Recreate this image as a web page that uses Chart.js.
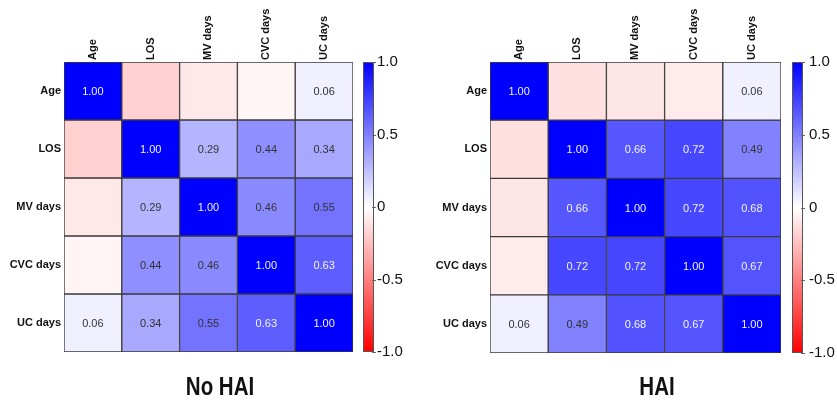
<!DOCTYPE html>
<html>
<head>
<meta charset="utf-8">
<script src="https://cdn.jsdelivr.net/npm/chart.js@4/dist/chart.umd.min.js"></script>
<style>
  html, body { margin: 0; padding: 0; background: #ffffff; }
  #wrap { position: relative; width: 837px; height: 403px; overflow: hidden; }
  canvas { position: absolute; top: 0; }
</style>
</head>
<body>
<div id="wrap">
  <canvas id="c1" width="418" height="403" style="left:0px"></canvas>
  <canvas id="c2" width="419" height="403" style="left:418px"></canvas>
</div>
<script>
// ---- data ----
const categories = ['Age', 'LOS', 'MV days', 'CVC days', 'UC days'];

// No HAI correlation matrix (rows)
const noHaiAge = [1.00, -0.18, -0.09, -0.04, 0.06];
const noHaiLOS = [-0.18, 1.00, 0.29, 0.44, 0.34];
const noHaiMV  = [-0.09, 0.29, 1.00, 0.46, 0.55];
const noHaiCVC = [-0.04, 0.44, 0.46, 1.00, 0.63];
const noHaiUC  = [0.06, 0.34, 0.55, 0.63, 1.00];

// HAI correlation matrix (rows)
const haiAge = [1.00, -0.12, -0.10, -0.08, 0.06];
const haiLOS = [-0.12, 1.00, 0.66, 0.72, 0.49];
const haiMV  = [-0.10, 0.66, 1.00, 0.72, 0.68];
const haiCVC = [-0.08, 0.72, 0.72, 1.00, 0.67];
const haiUC  = [0.06, 0.49, 0.68, 0.67, 1.00];

const colorbarTickValues = [-1, -0.5, 0, 0.5, 1];
const colorbarTickLabels = ['-1.0', '-0.5', '0', '0.5', '1.0'];

const titles = ['No HAI', 'HAI'];

// ---- helpers ----
const FONT = '"Liberation Sans", Arial, Helvetica, sans-serif';

function corrColor(v) {
  if (v >= 0) {
    const c = Math.round(255 * (1 - v));
    return `rgb(${c},${c},255)`;
  }
  const c = Math.round(255 * (1 + v));
  return `rgb(255,${c},${c})`;
}

const heatPlugin = {
  id: 'heatExtras',
  beforeDatasetsDraw(chart) {
    // colorbar
    const o = chart.options.plugins.heatExtras;
    const cb = chart.scales.cb;
    const ctx = chart.ctx;
    const top = cb.getPixelForValue(1);
    const bottom = cb.getPixelForValue(-1);
    const x0 = chart.chartArea.right + o.cbGap;
    const w = o.cbWidth;
    const g = ctx.createLinearGradient(0, top, 0, bottom);
    g.addColorStop(0, corrColor(1));
    g.addColorStop(0.5, corrColor(0));
    g.addColorStop(1, corrColor(-1));
    ctx.save();
    ctx.fillStyle = g;
    ctx.fillRect(x0, top, w, bottom - top);
    ctx.strokeStyle = '#555';
    ctx.lineWidth = 1;
    ctx.strokeRect(x0 + 0.5, top + 0.5, w - 1, bottom - top - 1);
    ctx.strokeStyle = '#666';
    colorbarTickValues.forEach(v => {
      const y = Math.round(cb.getPixelForValue(v)) + 0.5;
      ctx.beginPath();
      ctx.moveTo(x0 + w - 2, y);
      ctx.lineTo(x0 + w + 2, y);
      ctx.stroke();
    });
    ctx.restore();
  },
  afterDatasetsDraw(chart) {
    const ctx = chart.ctx;
    const vals = chart.options.plugins.heatExtras.values;
    ctx.save();
    ctx.font = '11px ' + FONT;
    ctx.textAlign = 'center';
    ctx.textBaseline = 'middle';
    chart.data.datasets.forEach((ds, r) => {
      const meta = chart.getDatasetMeta(r);
      meta.data.forEach((el, c) => {
        const v = vals[r][c];
        if (v < 0) return;
        const p = el.getCenterPoint();
        ctx.fillStyle = v > 0.6 ? '#f2f2ff' : '#333333';
        ctx.fillText(v.toFixed(2), p.x, p.y + 1);
      });
    });
    ctx.restore();
  },
  afterDraw(chart) {
    const o = chart.options.plugins.heatExtras;
    const ctx = chart.ctx;
    ctx.save();
    ctx.font = 'bold 25px ' + FONT;
    ctx.fillStyle = '#111';
    ctx.textAlign = 'center';
    ctx.textBaseline = 'middle';
    ctx.translate(o.titleX, o.titleY);
    ctx.scale(0.82, 1);
    ctx.fillText(o.title, 0, 0);
    ctx.restore();
  }
};

function makeHeatmap(canvasId, values, title, geo) {
  const datasets = values.map((row, r) => ({
    label: categories[r],
    data: categories.map(() => [r, r + 1]),
    backgroundColor: row.map(corrColor),
    borderColor: '#3a3a3a',
    borderWidth: 1,
    borderSkipped: false,
    grouped: false,
    barPercentage: 1,
    categoryPercentage: 1
  }));

  return new Chart(document.getElementById(canvasId), {
    type: 'bar',
    data: { labels: categories, datasets },
    plugins: [heatPlugin],
    options: {
      responsive: false,
      animation: false,
      indexAxis: 'x',
      layout: { padding: { top: 0, bottom: geo.padBottom, left: 0, right: 0 } },
      plugins: {
        legend: { display: false },
        tooltip: { enabled: false },
        heatExtras: {
          values, title,
          titleX: geo.titleX, titleY: 388,
          cbGap: geo.cbGap, cbWidth: geo.cbWidth
        }
      },
      scales: {
        x: {
          type: 'category',
          position: 'top',
          offset: true,
          grid: { display: false, drawTicks: false },
          border: { display: false },
          ticks: {
            minRotation: 90, maxRotation: 90, autoSkip: false,
            padding: 2, labelOffset: 13, color: '#111',
            font: { family: FONT, size: 11, weight: 'bold' }
          },
          afterFit(s) { s.height = 62; }
        },
        y: {
          type: 'linear',
          position: 'left',
          min: 0, max: 5, reverse: true,
          grid: { display: false, drawTicks: false },
          border: { display: false },
          afterBuildTicks(s) { s.ticks = categories.map((c, i) => ({ value: i + 0.5 })); },
          ticks: {
            autoSkip: false, padding: 3, color: '#111',
            font: { family: FONT, size: 11, weight: 'bold' },
            callback: (v, i) => categories[i]
          },
          afterFit(s) { s.width = geo.yWidth; }
        },
        cb: {
          type: 'linear',
          position: 'right',
          min: -1, max: 1,
          grid: { display: false, drawTicks: false },
          border: { display: false },
          afterBuildTicks(s) { s.ticks = colorbarTickValues.map(v => ({ value: v })); },
          ticks: {
            autoSkip: false, padding: geo.cbLabelPad, color: '#111',
            font: { family: FONT, size: 15 },
            callback: (v, i) => colorbarTickLabels[i]
          },
          afterFit(s) { s.width = geo.cbAxisWidth; }
        }
      }
    }
  });
}

makeHeatmap('c1', [noHaiAge, noHaiLOS, noHaiMV, noHaiCVC, noHaiUC], titles[0], {
  yWidth: 64, cbAxisWidth: 65, padBottom: 51,
  cbGap: 10, cbWidth: 11, cbLabelPad: 24, titleX: 220
});

makeHeatmap('c2', [haiAge, haiLOS, haiMV, haiCVC, haiUC], titles[1], {
  yWidth: 72, cbAxisWidth: 56, padBottom: 50,
  cbGap: 11, cbWidth: 11, cbLabelPad: 28, titleX: 239
});
</script>
</body>
</html>
